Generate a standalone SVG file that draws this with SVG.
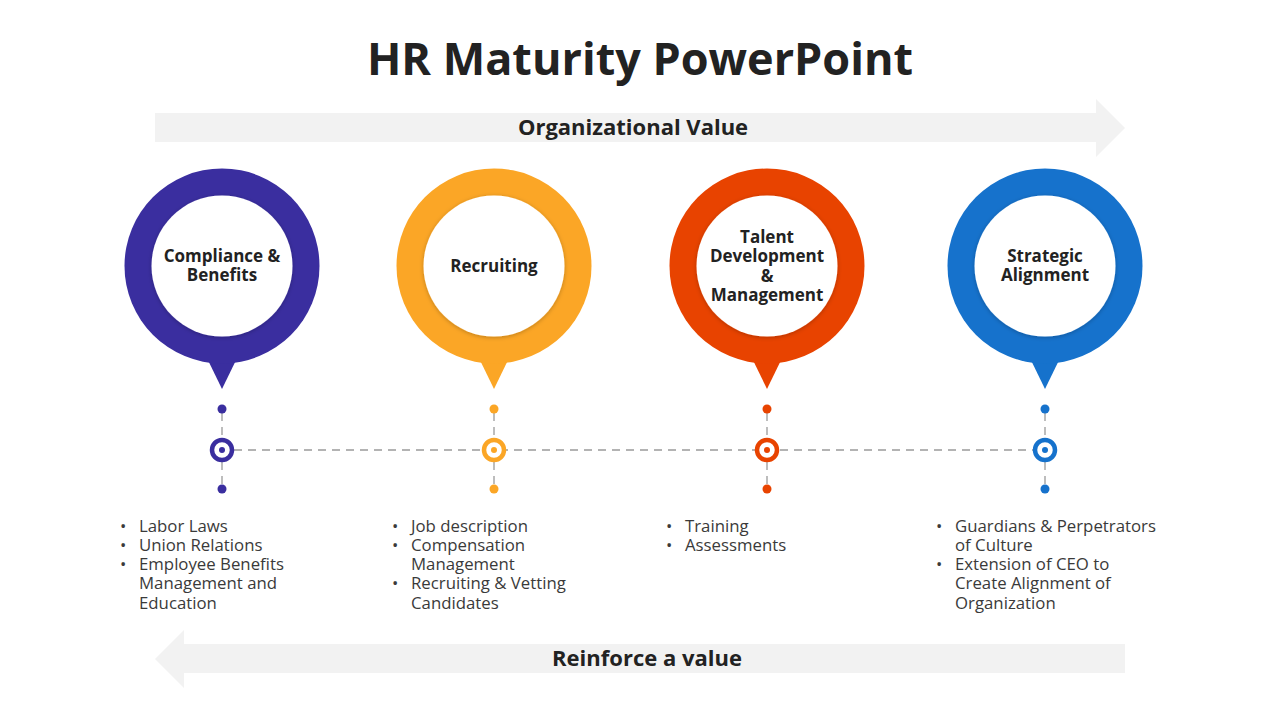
<svg xmlns="http://www.w3.org/2000/svg" width="1280" height="720" viewBox="0 0 1280 720">
<defs>
<style>
.t{font-family:"Open Sans","Liberation Sans",sans-serif;fill:#222}
.title{font-size:45px;font-weight:700;text-anchor:middle}
.band{font-size:22px;font-weight:700;text-anchor:middle}
.lbl{font-size:17px;font-weight:700;text-anchor:middle}
.bl{font-size:16.8px;fill:#3a3a3a}
.dash{stroke:#9a9a9a;stroke-width:1.3;stroke-dasharray:8 6;fill:none}
.inner{fill:#fff}
</style>
<filter id="sh" x="-20%" y="-20%" width="140%" height="140%"><feDropShadow dx="0" dy="1" stdDeviation="2" flood-opacity="0.25"/></filter>
</defs>
<rect width="1280" height="720" fill="#fff"/>
<text class="t title" x="640" y="75">HR Maturity PowerPoint</text>

<g id="band-top">
<polygon points="155,113 1096,113 1096,99 1125,128 1096,157 1096,142 155,142" fill="#f2f2f2"/>
<text class="t band" x="633" y="135">Organizational Value</text>
</g>
<g id="band-bottom">
<polygon points="1125,644 184,644 184,630 155,659 184,688 184,673 1125,673" fill="#f2f2f2"/>
<text class="t band" x="647" y="666">Reinforce a value</text>
</g>

<g id="connectors">
<line class="dash" x1="234" y1="450" x2="1033" y2="450"/>
<line class="dash" x1="222" y1="413" x2="222" y2="438"/>
<line class="dash" x1="222" y1="462" x2="222" y2="485"/>
<line class="dash" x1="494" y1="413" x2="494" y2="438"/>
<line class="dash" x1="494" y1="462" x2="494" y2="485"/>
<line class="dash" x1="767" y1="413" x2="767" y2="438"/>
<line class="dash" x1="767" y1="462" x2="767" y2="485"/>
<line class="dash" x1="1045" y1="413" x2="1045" y2="438"/>
<line class="dash" x1="1045" y1="462" x2="1045" y2="485"/>
</g>

<g id="node-compliance">
<polygon points="204,352 240,352 222,389" fill="#3a2e9f"/>
<circle cx="222" cy="266" r="97.5" fill="#3a2e9f"/>
<circle class="inner" cx="222" cy="266" r="70.5" filter="url(#sh)"/>
<text class="t lbl" x="222" y="262">Compliance &amp;<tspan x="222" y="281">Benefits</tspan></text>
<circle cx="222" cy="409" r="4.5" fill="#3a2e9f"/>
<circle cx="222" cy="489" r="4.5" fill="#3a2e9f"/>
<circle cx="222" cy="450" r="10" fill="#fff" stroke="#3a2e9f" stroke-width="4.5"/>
<circle cx="222" cy="450" r="3" fill="#3a2e9f"/>
<text class="t bl" x="120" y="532">•<tspan x="139">Labor Laws</tspan><tspan x="120" y="551">•</tspan><tspan x="139">Union Relations</tspan><tspan x="120" y="570">•</tspan><tspan x="139">Employee Benefits</tspan><tspan x="139" y="589">Management and</tspan><tspan x="139" y="609">Education</tspan></text>
</g>

<g id="node-recruiting">
<polygon points="476,352 512,352 494,389" fill="#fba626"/>
<circle cx="494" cy="266" r="97.5" fill="#fba626"/>
<circle class="inner" cx="494" cy="266" r="70.5" filter="url(#sh)"/>
<text class="t lbl" x="494" y="272">Recruiting</text>
<circle cx="494" cy="409" r="4.5" fill="#fba626"/>
<circle cx="494" cy="489" r="4.5" fill="#fba626"/>
<circle cx="494" cy="450" r="10" fill="#fff" stroke="#fba626" stroke-width="4.5"/>
<circle cx="494" cy="450" r="3" fill="#fba626"/>
<text class="t bl" x="392" y="532">•<tspan x="411">Job description</tspan><tspan x="392" y="551">•</tspan><tspan x="411">Compensation</tspan><tspan x="411" y="570">Management</tspan><tspan x="392" y="589">•</tspan><tspan x="411">Recruiting &amp; Vetting</tspan><tspan x="411" y="609">Candidates</tspan></text>
</g>

<g id="node-talent">
<polygon points="749,352 785,352 767,389" fill="#e84300"/>
<circle cx="767" cy="266" r="97.5" fill="#e84300"/>
<circle class="inner" cx="767" cy="266" r="70.5" filter="url(#sh)"/>
<text class="t lbl" x="767" y="243">Talent<tspan x="767" y="262">Development</tspan><tspan x="767" y="282">&amp;</tspan><tspan x="767" y="301">Management</tspan></text>
<circle cx="767" cy="409" r="4.5" fill="#e84300"/>
<circle cx="767" cy="489" r="4.5" fill="#e84300"/>
<circle cx="767" cy="450" r="10" fill="#fff" stroke="#e84300" stroke-width="4.5"/>
<circle cx="767" cy="450" r="3" fill="#e84300"/>
<text class="t bl" x="666" y="532">•<tspan x="685">Training</tspan><tspan x="666" y="551">•</tspan><tspan x="685">Assessments</tspan></text>
</g>

<g id="node-strategic">
<polygon points="1027,352 1063,352 1045,389" fill="#1672cc"/>
<circle cx="1045" cy="266" r="97.5" fill="#1672cc"/>
<circle class="inner" cx="1045" cy="266" r="70.5" filter="url(#sh)"/>
<text class="t lbl" x="1045" y="262">Strategic<tspan x="1045" y="281">Alignment</tspan></text>
<circle cx="1045" cy="409" r="4.5" fill="#1672cc"/>
<circle cx="1045" cy="489" r="4.5" fill="#1672cc"/>
<circle cx="1045" cy="450" r="10" fill="#fff" stroke="#1672cc" stroke-width="4.5"/>
<circle cx="1045" cy="450" r="3" fill="#1672cc"/>
<text class="t bl" x="936" y="532">•<tspan x="955">Guardians &amp; Perpetrators</tspan><tspan x="955" y="551">of Culture</tspan><tspan x="936" y="570">•</tspan><tspan x="955">Extension of CEO to</tspan><tspan x="955" y="589">Create Alignment of</tspan><tspan x="955" y="609">Organization</tspan></text>
</g>
</svg>
